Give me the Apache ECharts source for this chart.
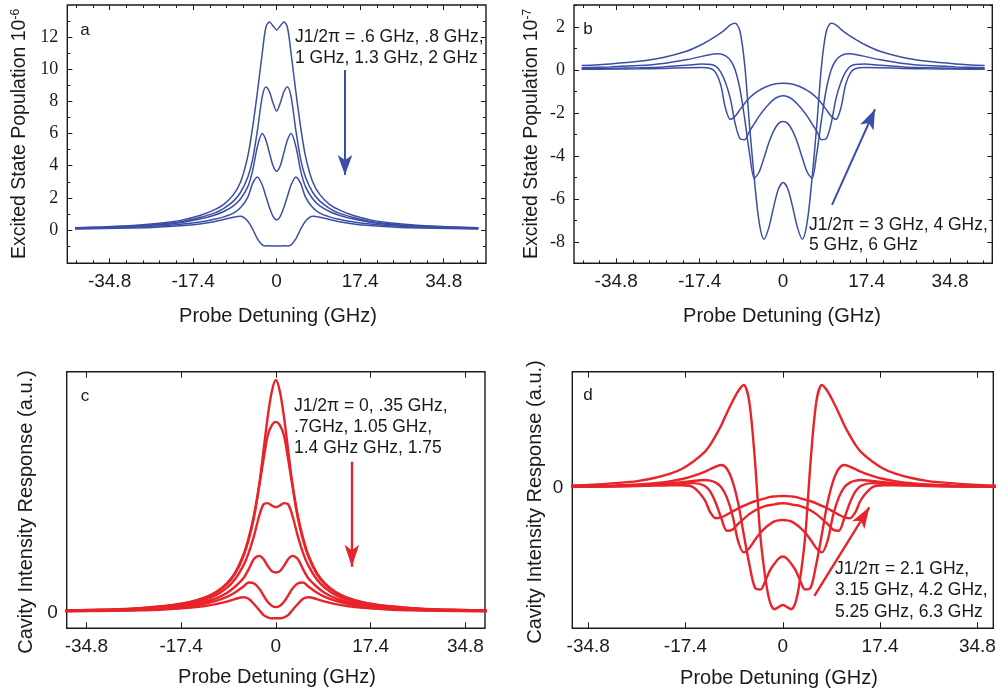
<!DOCTYPE html>
<html>
<head>
<meta charset="utf-8">
<script src="https://cdn.jsdelivr.net/npm/echarts@6/dist/echarts.min.js"></script>
<style>
  html, body { margin: 0; padding: 0; background: #fff; }
  #chart { width: 1005px; height: 693px; }
</style>
</head>
<body>
<div id="chart"></div>
<script>
// probe detuning grids (GHz), one per panel
var xA = [-42,-36,-30,-25,-20,-16,-13,-11,-9,-7.5,-6,-5,-4,-3,-2.25,-1.5,-0.75,0,0.75,1.5,2.25,3,4,5,6,7.5,9,11,13,16,20,25,30,36,42]
var xB = [-42,-36,-30,-25,-20,-17,-15,-14,-13,-12,-11,-10,-9,-8,-7,-6,-5,-4,-3,-2,-1,0,1,2,3,4,5,6,7,8,9,10,11,12,13,14,15,17,20,25,30,36,42]
var xC = [-39,-30,-25,-20,-16,-13,-11,-9,-7.5,-6,-5,-4,-3,-2.25,-1.5,-0.75,0,0.75,1.5,2.25,3,4,5,6,7.5,9,11,13,16,20,25,30,39]
var xD = [-39,-34,-30,-26,-23,-20,-18,-16,-14,-13,-12,-11,-10,-9,-8,-7,-6,-5,-4,-3,-2.25,-1.5,-0.75,0,0.75,1.5,2.25,3,4,5,6,7,8,9,10,11,12,13,14,16,18,20,23,26,30,34,39]

// a: excited state population (x1e-6), J1/2pi = .6, .8, 1, 1.3, 2 GHz
var a06 = [0.14,0.2,0.28,0.4,0.6,0.9,1.25,1.6,2.2,3.0,4.6,6.4,8.6,11.0,12.6,12.95,12.7,12.45,12.7,12.95,12.6,11.0,8.6,6.4,4.6,3.0,2.2,1.6,1.25,0.9,0.6,0.4,0.28,0.2,0.14]
var a08 = [0.12,0.18,0.25,0.35,0.52,0.78,1.05,1.35,1.8,2.35,3.3,4.4,6.2,8.3,8.9,8.6,7.9,7.4,7.9,8.6,8.9,8.3,6.2,4.4,3.3,2.35,1.8,1.35,1.05,0.78,0.52,0.35,0.25,0.18,0.12]
var a10 = [0.11,0.16,0.22,0.31,0.46,0.68,0.92,1.15,1.5,1.95,2.7,3.7,5.2,6.0,5.6,4.8,4.0,3.65,4.0,4.8,5.6,6.0,5.2,3.7,2.7,1.95,1.5,1.15,0.92,0.68,0.46,0.31,0.22,0.16,0.11]
var a13 = [0.09,0.13,0.18,0.25,0.36,0.5,0.67,0.82,1.05,1.4,2.05,2.9,3.3,2.8,2.1,1.4,0.85,0.62,0.85,1.4,2.1,2.8,3.3,2.9,2.05,1.4,1.05,0.82,0.67,0.5,0.36,0.25,0.18,0.13,0.09]
var a20 = [0.06,0.09,0.13,0.18,0.27,0.38,0.52,0.65,0.8,0.85,0.55,0.05,-0.55,-0.92,-0.99,-0.98,-0.99,-1.0,-0.99,-0.98,-0.99,-0.92,-0.55,0.05,0.55,0.85,0.8,0.65,0.52,0.38,0.27,0.18,0.13,0.09,0.06]

// b: excited state population (x1e-7), J1/2pi = 3, 4, 5, 6 GHz
var b3 = [0.2,0.28,0.4,0.58,0.88,1.18,1.43,1.57,1.72,1.9,2.1,2.17,1.8,0.2,-2.6,-5.1,-7.1,-7.88,-7.35,-6.4,-5.55,-5.24,-5.55,-6.4,-7.35,-7.88,-7.1,-5.1,-2.6,0.2,1.8,2.17,2.1,1.9,1.72,1.57,1.43,1.18,0.88,0.58,0.4,0.28,0.2]
var b4 = [0.1,0.14,0.2,0.3,0.48,0.63,0.72,0.75,0.74,0.65,0.45,0.0,-0.9,-2.3,-3.9,-5.04,-4.75,-4.1,-3.4,-2.85,-2.5,-2.4,-2.5,-2.85,-3.4,-4.1,-4.75,-5.04,-3.9,-2.3,-0.9,0.0,0.45,0.65,0.74,0.75,0.72,0.63,0.48,0.3,0.2,0.14,0.1]
var b5 = [0.05,0.07,0.1,0.14,0.22,0.28,0.25,0.16,-0.1,-0.6,-1.35,-2.5,-3.2,-3.25,-2.85,-2.5,-2.15,-1.85,-1.6,-1.38,-1.25,-1.2,-1.25,-1.38,-1.6,-1.85,-2.15,-2.5,-2.85,-3.25,-3.2,-2.5,-1.35,-0.6,-0.1,0.16,0.25,0.28,0.22,0.14,0.1,0.07,0.05]
var b6 = [0.03,0.04,0.05,0.07,0.1,0.11,0.05,-0.15,-0.7,-1.8,-2.3,-2.15,-1.85,-1.55,-1.3,-1.1,-0.95,-0.83,-0.74,-0.67,-0.63,-0.62,-0.63,-0.67,-0.74,-0.83,-0.95,-1.1,-1.3,-1.55,-1.85,-2.15,-2.3,-1.8,-0.7,-0.15,0.05,0.11,0.1,0.07,0.05,0.04,0.03]

// c: cavity intensity response (a.u.), J1/2pi = 0, .35, .7, 1.05, 1.4, 1.75 GHz
var c000 = [0.008,0.012,0.018,0.028,0.043,0.064,0.087,0.125,0.17,0.245,0.32,0.42,0.56,0.7,0.84,0.95,1.0,0.95,0.84,0.7,0.56,0.42,0.32,0.245,0.17,0.125,0.087,0.064,0.043,0.028,0.018,0.012,0.008]
var c035 = [0.008,0.012,0.017,0.027,0.041,0.062,0.084,0.12,0.165,0.238,0.31,0.41,0.55,0.66,0.76,0.805,0.82,0.805,0.76,0.66,0.55,0.41,0.31,0.238,0.165,0.12,0.084,0.062,0.041,0.027,0.017,0.012,0.008]
var c070 = [0.007,0.01,0.015,0.024,0.037,0.055,0.074,0.105,0.142,0.2,0.255,0.33,0.42,0.465,0.47,0.46,0.452,0.46,0.47,0.465,0.42,0.33,0.255,0.2,0.142,0.105,0.074,0.055,0.037,0.024,0.015,0.01,0.007]
var c105 = [0.006,0.009,0.013,0.02,0.031,0.045,0.06,0.083,0.11,0.145,0.185,0.23,0.243,0.228,0.2,0.177,0.171,0.177,0.2,0.228,0.243,0.23,0.185,0.145,0.11,0.083,0.06,0.045,0.031,0.02,0.013,0.009,0.006]
var c140 = [0.005,0.008,0.011,0.017,0.026,0.037,0.049,0.066,0.085,0.11,0.128,0.124,0.1,0.072,0.045,0.028,0.022,0.028,0.045,0.072,0.1,0.124,0.128,0.11,0.085,0.066,0.049,0.037,0.026,0.017,0.011,0.008,0.005]
var c175 = [0.004,0.006,0.008,0.013,0.019,0.027,0.035,0.046,0.057,0.065,0.058,0.035,0.008,-0.012,-0.022,-0.026,-0.026,-0.026,-0.022,-0.012,0.008,0.035,0.058,0.065,0.057,0.046,0.035,0.027,0.019,0.013,0.008,0.006,0.004]

// d: cavity intensity response (a.u.), J1/2pi = 2.1, 3.15, 4.2, 5.25, 6.3 GHz
var d210 = [0.015,0.025,0.04,0.06,0.09,0.135,0.18,0.25,0.34,0.41,0.5,0.6,0.72,0.83,0.93,0.99,0.83,0.27,-0.48,-0.92,-1.12,-1.18,-1.16,-1.14,-1.16,-1.18,-1.12,-0.92,-0.48,0.27,0.83,0.99,0.93,0.83,0.72,0.6,0.5,0.41,0.34,0.25,0.18,0.135,0.09,0.06,0.04,0.025,0.015]
var d315 = [0.008,0.012,0.018,0.028,0.04,0.06,0.08,0.11,0.15,0.175,0.2,0.216,0.18,0.06,-0.15,-0.45,-0.74,-0.97,-0.99,-0.89,-0.8,-0.74,-0.69,-0.67,-0.69,-0.74,-0.8,-0.89,-0.99,-0.97,-0.74,-0.45,-0.15,0.06,0.18,0.216,0.2,0.175,0.15,0.11,0.08,0.06,0.04,0.028,0.018,0.012,0.008]
var d420 = [0.006,0.009,0.013,0.02,0.028,0.04,0.05,0.062,0.07,0.065,0.045,0.0,-0.1,-0.27,-0.52,-0.63,-0.59,-0.51,-0.44,-0.385,-0.355,-0.33,-0.32,-0.316,-0.32,-0.33,-0.355,-0.385,-0.44,-0.51,-0.59,-0.63,-0.52,-0.27,-0.1,0.0,0.045,0.065,0.07,0.062,0.05,0.04,0.028,0.02,0.013,0.009,0.006]
var d525 = [0.005,0.008,0.011,0.016,0.022,0.03,0.035,0.04,0.015,-0.04,-0.15,-0.3,-0.42,-0.41,-0.355,-0.305,-0.26,-0.225,-0.2,-0.18,-0.172,-0.165,-0.157,-0.155,-0.157,-0.165,-0.172,-0.18,-0.2,-0.225,-0.26,-0.305,-0.355,-0.41,-0.42,-0.3,-0.15,-0.04,0.015,0.04,0.035,0.03,0.022,0.016,0.011,0.008,0.005]
var d630 = [0.004,0.006,0.008,0.012,0.016,0.02,0.02,0.0,-0.12,-0.24,-0.3,-0.29,-0.265,-0.235,-0.205,-0.18,-0.155,-0.135,-0.12,-0.105,-0.093,-0.088,-0.085,-0.084,-0.085,-0.088,-0.093,-0.105,-0.12,-0.135,-0.155,-0.18,-0.205,-0.235,-0.265,-0.29,-0.3,-0.24,-0.12,0.0,0.02,0.02,0.016,0.012,0.008,0.006,0.004]

// tick labels
var xLabels = [-34.8, -17.4, 0, 17.4, 34.8]
var xMinor = [-41.76,-38.28,-31.32,-27.84,-24.36,-20.88,-13.92,-10.44,-6.96,-3.48,3.48,6.96,10.44,13.92,20.88,24.36,27.84,31.32,38.28,41.76]
var yLabelsA = [0, 2, 4, 6, 8, 10, 12]
var yMinorA = [-1, 1, 3, 5, 7, 9, 11, 13]
var yLabelsB = [-8, -6, -4, -2, 0, 2]
var yMinorB = [-9, -7, -5, -3, -1, 1, 3]

var INK = '#1a1a1a'
var BLUE = '#3a4ea6'
var RED = '#e8232a'

var panels = [
  {
    box: {left: 67.3, top: 5, width: 418.7, height: 258.3},
    xMin: -43.6, xMax: 43.6, yMin: -2.07, yMax: 14.0,
    yLabels: yLabelsA, yMinor: yMinorA, minor: true,
    color: BLUE, lineWidth: 1.5, xs: xA,
    curves: [['.6 GHz', a06], ['.8 GHz', a08], ['1 GHz', a10], ['1.3 GHz', a13], ['2 GHz', a20]],
    arrow: [[14.23, 9.96], [14.23, 3.42]], arrowSize: [11, 20], arrowWidth: 2
  },
  {
    box: {left: 574, top: 5, width: 418.3, height: 258.3},
    xMin: -43.6, xMax: 43.6, yMin: -9.0, yMax: 3.02,
    yLabels: yLabelsB, yMinor: yMinorB, minor: true,
    color: BLUE, lineWidth: 1.5, xs: xB,
    curves: [['3 GHz', b3], ['4 GHz', b4], ['5 GHz', b5], ['6 GHz', b6]],
    arrow: [[10.19, -6.28], [19.15, -1.83]], arrowSize: [11, 20], arrowWidth: 2
  },
  {
    box: {left: 66.7, top: 371.7, width: 418.3, height: 256.6},
    xMin: -38.4, xMax: 38.4, yMin: -0.069, yMax: 1.036,
    yLabels: [0], yMinor: null, minor: false,
    color: RED, lineWidth: 2.4, xs: xC,
    curves: [['0', c000], ['.35 GHz', c035], ['.7 GHz', c070], ['1.05 GHz', c105], ['1.4 GHz', c140], ['1.75 GHz', c175]],
    arrow: [[13.95, 0.648], [13.95, 0.196]], arrowSize: [11, 22], arrowWidth: 2.4
  },
  {
    box: {left: 572.3, top: 371.7, width: 421, height: 256.6},
    xMin: -37.65, xMax: 37.65, yMin: -1.365, yMax: 1.119,
    yLabels: [0], yMinor: null, minor: false,
    color: RED, lineWidth: 2.4, xs: xD,
    curves: [['2.1 GHz', d210], ['3.15 GHz', d315], ['4.2 GHz', d420], ['5.25 GHz', d525], ['6.3 GHz', d630]],
    arrow: [[5.65, -1.052], [15.47, -0.194]], arrowSize: [11, 21], arrowWidth: 2.4
  }
]

function axis(gi, min, max, pos, ticks, len, label) {
  return {
    type: 'value', gridIndex: gi, min: min, max: max, position: pos,
    splitLine: {show: false},
    axisLine: {show: false, onZero: false},
    axisTick: {show: !!ticks, inside: true, length: len, customValues: ticks || undefined, lineStyle: {color: INK, width: 1}},
    axisLabel: label || {show: false}
  }
}

var option = {
  animation: false,
  backgroundColor: '#fff',
  grid: [], xAxis: [], yAxis: [], series: [], graphic: []
}

panels.forEach(function (p, i) {
  option.grid.push(Object.assign({show: true, borderColor: INK, borderWidth: 1.4, backgroundColor: 'transparent', outerBoundsMode: 'none'}, p.box))
  var xi = option.xAxis.length
  var yi = option.yAxis.length
  var xLab = {
    customValues: xLabels, margin: 9, color: INK, fontFamily: 'Liberation Sans', fontSize: 19,
    formatter: function (v) { return String(v) }
  }
  var yLab = {
    customValues: p.yLabels, margin: 9, color: INK,
    fontFamily: p.minor ? 'Liberation Serif' : 'Liberation Sans', fontSize: p.minor ? 18 : 19,
    formatter: function (v) { return String(v) }
  }
  var majLen = p.minor ? 5 : 6
  option.xAxis.push(axis(i, p.xMin, p.xMax, 'bottom', xLabels, majLen, xLab))
  option.xAxis.push(axis(i, p.xMin, p.xMax, 'top', xLabels, majLen))
  option.xAxis.push(axis(i, p.xMin, p.xMax, 'bottom', p.minor ? xMinor : null, 3))
  option.xAxis.push(axis(i, p.xMin, p.xMax, 'top', p.minor ? xMinor : null, 3))
  option.yAxis.push(axis(i, p.yMin, p.yMax, 'left', p.minor ? p.yLabels : null, 5, yLab))
  option.yAxis.push(axis(i, p.yMin, p.yMax, 'right', p.minor ? p.yLabels : null, 5))
  option.yAxis.push(axis(i, p.yMin, p.yMax, 'left', p.yMinor, 3))
  option.yAxis.push(axis(i, p.yMin, p.yMax, 'right', p.yMinor, 3))

  p.curves.forEach(function (c, k) {
    if (c[1].length !== p.xs.length) throw new Error('length mismatch ' + i + ' ' + c[0])
    var s = {
      name: 'J1/2π = ' + c[0], type: 'line', xAxisIndex: xi, yAxisIndex: yi,
      data: p.xs.map(function (x, j) { return [x, c[1][j]] }),
      showSymbol: false, smooth: 0.3, clip: true,
      lineStyle: {color: p.color, width: p.lineWidth},
      itemStyle: {color: p.color},
      z: 3
    }
    if (k === 0) {
      // arrow drawn in data coordinates
      s.markLine = {
        silent: true, animation: false,
        symbol: ['none', 'arrow'], symbolSize: 14,
        lineStyle: {color: p.color, width: p.arrowWidth, type: 'solid'},
        itemStyle: {color: p.color},
        label: {show: false},
        data: [[
          {coord: p.arrow[0], symbol: 'none'},
          {coord: p.arrow[1], symbol: 'arrow', symbolSize: p.arrowSize, itemStyle: {color: p.color}}
        ]]
      }
    }
    option.series.push(s)
  })
})

function ytitle(x, y, text, size, rich) {
  return {
    type: 'text', x: x, y: y, rotation: Math.PI / 2, silent: true,
    style: {
      text: text, fill: INK, font: size + 'px "Liberation Sans"', align: 'center', verticalAlign: 'middle',
      rich: rich || undefined
    }
  }
}

function label(x, y, text, size, align, lh) {
  return {
    type: 'text', x: x, y: y, silent: true,
    style: {text: text, fill: INK, font: size + 'px "Liberation Sans"', lineHeight: lh || undefined,
      align: align, verticalAlign: align === 'left' ? 'top' : 'middle'}
  }
}

var sup = {sup: {fontSize: 12, fontFamily: 'Liberation Sans', fill: INK, verticalAlign: 'top', padding: [0, 0, 8, 0]}}

option.graphic = [
  // panel letters
  label(85, 30, 'a', 17, 'center'),
  label(588, 29, 'b', 17, 'center'),
  label(85, 396, 'c', 17, 'center'),
  label(588, 395, 'd', 17, 'center'),
  // annotations
  label(295, 26, 'J1/2π = .6 GHz, .8 GHz,\n1 GHz, 1.3 GHz, 2 GHz', 17.5, 'left', 21.6),
  label(809, 215, 'J1/2π = 3 GHz, 4 GHz,\n5 GHz, 6 GHz', 17.5, 'left', 20),
  label(294, 396, 'J1/2π = 0, .35 GHz,\n.7GHz, 1.05 GHz,\n1.4 GHz GHz, 1.75', 17.5, 'left', 20.8),
  label(835, 558.7, 'J1/2π = 2.1 GHz,\n3.15 GHz, 4.2 GHz,\n5.25 GHz, 6.3 GHz', 17.5, 'left', 21.2),
  // axis titles
  label(278, 316, 'Probe Detuning (GHz)', 20, 'center'),
  label(782, 316, 'Probe Detuning (GHz)', 20, 'center'),
  label(277, 677, 'Probe Detuning (GHz)', 20, 'center'),
  label(779, 678, 'Probe Detuning (GHz)', 20, 'center'),
  ytitle(20, 134, 'Excited State Population 10{sup|-6}', 19.5, sup),
  ytitle(531.7, 134, 'Excited State Population 10{sup|-7}', 19.5, sup),
  ytitle(26.7, 512, 'Cavity Intensity Response (a.u.)', 20),
  ytitle(535.5, 502, 'Cavity Intensity Response (a.u.)', 20)
]

var chart = echarts.init(document.getElementById('chart'))
chart.setOption(option)
</script>
</body>
</html>
